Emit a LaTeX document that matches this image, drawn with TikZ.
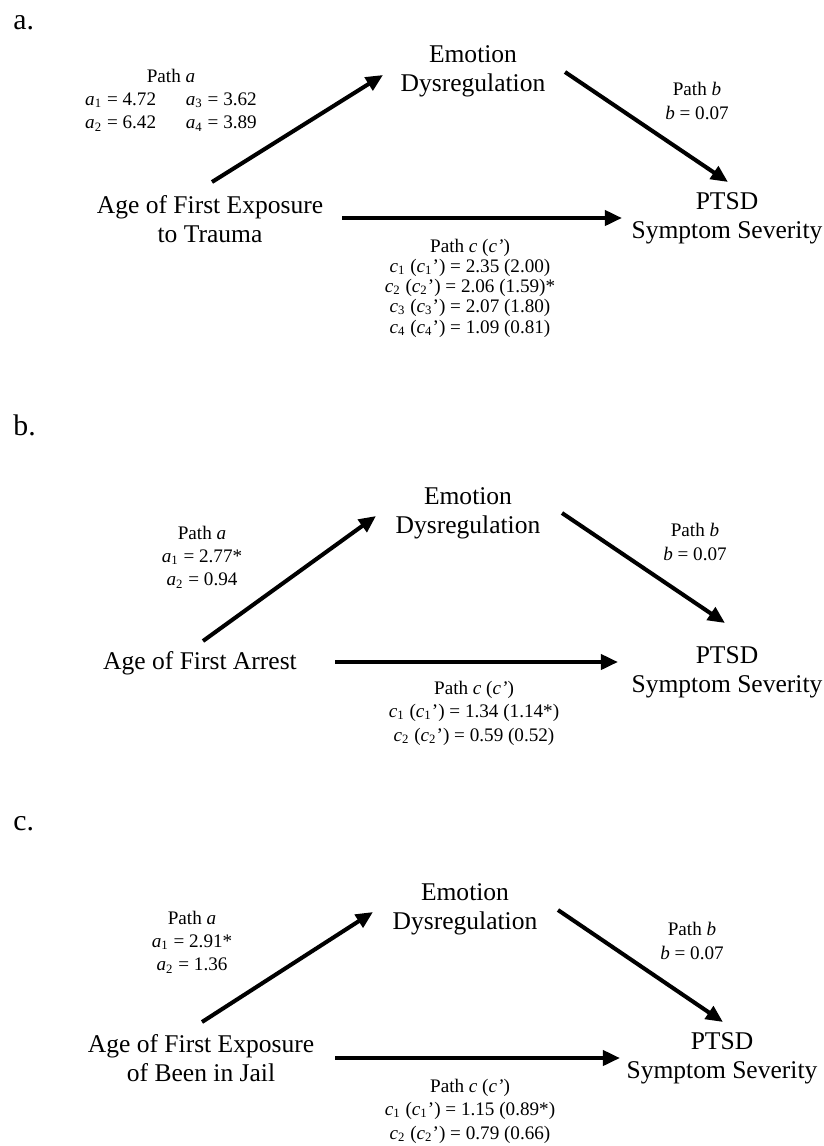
\documentclass[tikz,border=0pt]{standalone}
\usepackage{fontspec}
\setmainfont{Liberation Serif}
\usepackage{tikz}
\usetikzlibrary{arrows.meta, calc}

\newcommand{\coef}[2]{\textit{#1}\textsubscript{#2}}

\tikzset{
  var/.style={font=\fontsize{12}{13.5}\selectfont, align=center, inner sep=0pt},
  est/.style={font=\fontsize{9}{11}\selectfont, align=center, inner sep=0pt},
  panel/.style={font=\fontsize{14}{16}\selectfont, anchor=base west, inner sep=0pt},
  effect/.style={line width=1.9pt, -{Triangle[length=8pt, width=7pt]}}
}

\begin{document}
\begin{tikzpicture}[x=0.47pt, y=-0.47pt]
  \useasboundingbox (0,0) rectangle (823,1146);

  % Panel a
  \node[panel] (lblA) at (13,29) {a.};
  \node[var] (emoA) at (473,71) {Emotion\\Dysregulation};
  \node[var] (ageA) at (210,219) {Age of First Exposure\\to Trauma};
  \node[var] (ptsdA) at (727,218) {PTSD\\Symptom Severity};
  \node[est] (pathaA) at (171,100) {Path \textit{a}\\
    \coef{a}{1} = 4.72\hspace{14pt}\coef{a}{3} = 3.62\\
    \coef{a}{2} = 6.42\hspace{14pt}\coef{a}{4} = 3.89};
  \node[est] (pathbA) at (697,101) {Path \textit{b}\\\textit{b} = 0.07};
  \node[est, font=\fontsize{9}{9.5}\selectfont] (pathcA) at (470,288) {Path \textit{c} (\textit{c’})\\
    \coef{c}{1} (\coef{c}{1}’) = 2.35 (2.00)\\
    \coef{c}{2} (\coef{c}{2}’) = 2.06 (1.59)*\\
    \coef{c}{3} (\coef{c}{3}’) = 2.07 (1.80)\\
    \coef{c}{4} (\coef{c}{4}’) = 1.09 (0.81)};

  \draw[effect] ($(ageA)+(2,-37)$) -- ($(emoA)+(-90,4)$);
  \draw[effect] ($(emoA)+(92,1)$) -- ($(ptsdA)+(1,-36)$);
  \draw[effect] ($(ageA)+(132,-1)$) -- ($(ptsdA)+(-105,0)$);

  % Panel b
  \node[panel] (lblB) at (13,435) {b.};
  \node[var] (emoB) at (468,513) {Emotion\\Dysregulation};
  \node[var] (ageB) at (200,663) {Age of First Arrest};
  \node[var] (ptsdB) at (727,672) {PTSD\\Symptom Severity};
  \node[est] (pathaB) at (202,557) {Path \textit{a}\\
    \coef{a}{1} = 2.77*\\
    \coef{a}{2} = 0.94};
  \node[est] (pathbB) at (695,542) {Path \textit{b}\\\textit{b} = 0.07};
  \node[est] (pathcB) at (474,713) {Path \textit{c} (\textit{c’})\\
    \coef{c}{1} (\coef{c}{1}’) = 1.34 (1.14*)\\
    \coef{c}{2} (\coef{c}{2}’) = 0.59 (0.52)};

  \draw[effect] ($(ageB)+(3,-22)$) -- ($(emoB)+(-92,3)$);
  \draw[effect] ($(emoB)+(94,0)$) -- ($(ptsdB)+(-2,-49)$);
  \draw[effect] ($(ageB)+(135,-1)$) -- ($(ptsdB)+(-109,-10)$);

  % Panel c
  \node[panel] (lblC) at (13,830) {c.};
  \node[var] (emoC) at (465,909) {Emotion\\Dysregulation};
  \node[var] (ageC) at (201,1058) {Age of First Exposure\\of Been in Jail};
  \node[var] (ptsdC) at (722,1058) {PTSD\\Symptom Severity};
  \node[est] (pathaC) at (192,942) {Path \textit{a}\\
    \coef{a}{1} = 2.91*\\
    \coef{a}{2} = 1.36};
  \node[est] (pathbC) at (692,941) {Path \textit{b}\\\textit{b} = 0.07};
  \node[est] (pathcC) at (470,1111) {Path \textit{c} (\textit{c’})\\
    \coef{c}{1} (\coef{c}{1}’) = 1.15 (0.89*)\\
    \coef{c}{2} (\coef{c}{2}’) = 0.79 (0.66)};

  \draw[effect] ($(ageC)+(1,-36)$) -- ($(emoC)+(-92,3)$);
  \draw[effect] ($(emoC)+(93,1)$) -- ($(ptsdC)+(1,-36)$);
  \draw[effect] ($(ageC)+(134,0)$) -- ($(ptsdC)+(-102,0)$);
\end{tikzpicture}
\end{document}
